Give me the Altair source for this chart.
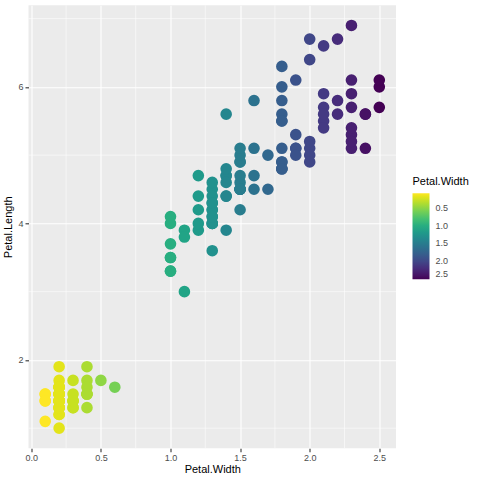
import altair as alt
import pandas as pd

# Edgar Anderson's iris measurements (petal length / width, cm)
petal_length = [
    1.4, 1.4, 1.3, 1.5, 1.4, 1.7, 1.4, 1.5, 1.4, 1.5, 1.5, 1.6, 1.4, 1.1, 1.2, 1.5, 1.3, 1.4, 1.7, 1.5,
    1.7, 1.5, 1.0, 1.7, 1.9, 1.6, 1.6, 1.5, 1.4, 1.6, 1.6, 1.5, 1.5, 1.4, 1.5, 1.2, 1.3, 1.4, 1.3, 1.5,
    1.3, 1.3, 1.3, 1.6, 1.9, 1.4, 1.6, 1.4, 1.5, 1.4,
    4.7, 4.5, 4.9, 4.0, 4.6, 4.5, 4.7, 3.3, 4.6, 3.9, 3.5, 4.2, 4.0, 4.7, 3.6, 4.4, 4.5, 4.1, 4.5, 3.9,
    4.8, 4.0, 4.9, 4.7, 4.3, 4.4, 4.8, 5.0, 4.5, 3.5, 3.8, 3.7, 3.9, 5.1, 4.5, 4.5, 4.7, 4.4, 4.1, 4.0,
    4.4, 4.6, 4.0, 3.3, 4.2, 4.2, 4.2, 4.3, 3.0, 4.1,
    6.0, 5.1, 5.9, 5.6, 5.8, 6.6, 4.5, 6.3, 5.8, 6.1, 5.1, 5.3, 5.5, 5.0, 5.1, 5.3, 5.5, 6.7, 6.9, 5.0,
    5.7, 4.9, 6.7, 4.9, 5.7, 6.0, 4.8, 4.9, 5.6, 5.8, 6.1, 6.4, 5.6, 5.1, 5.6, 6.1, 5.6, 5.5, 4.8, 5.4,
    5.6, 5.1, 5.1, 5.9, 5.7, 5.2, 5.0, 5.2, 5.4, 5.1,
]
petal_width = [
    0.2, 0.2, 0.2, 0.2, 0.2, 0.4, 0.3, 0.2, 0.2, 0.1, 0.2, 0.2, 0.1, 0.1, 0.2, 0.4, 0.4, 0.3, 0.3, 0.3,
    0.2, 0.4, 0.2, 0.5, 0.2, 0.2, 0.4, 0.2, 0.2, 0.2, 0.2, 0.4, 0.1, 0.2, 0.2, 0.2, 0.2, 0.1, 0.2, 0.2,
    0.3, 0.3, 0.2, 0.6, 0.4, 0.3, 0.2, 0.2, 0.2, 0.2,
    1.4, 1.5, 1.5, 1.3, 1.5, 1.3, 1.6, 1.0, 1.3, 1.4, 1.0, 1.5, 1.0, 1.4, 1.3, 1.4, 1.5, 1.0, 1.5, 1.1,
    1.8, 1.3, 1.5, 1.2, 1.3, 1.4, 1.4, 1.7, 1.5, 1.0, 1.1, 1.0, 1.2, 1.6, 1.5, 1.6, 1.5, 1.3, 1.3, 1.3,
    1.2, 1.4, 1.2, 1.0, 1.3, 1.2, 1.3, 1.3, 1.1, 1.3,
    2.5, 1.9, 2.1, 1.8, 2.2, 2.1, 1.7, 1.8, 1.8, 2.5, 2.0, 1.9, 2.1, 2.0, 2.4, 2.3, 1.8, 2.2, 2.3, 1.5,
    2.3, 2.0, 2.0, 1.8, 2.1, 1.8, 1.8, 1.8, 2.1, 1.6, 1.9, 2.0, 2.2, 1.5, 1.4, 2.3, 2.4, 1.8, 1.8, 2.1,
    2.4, 2.3, 1.9, 2.3, 2.5, 2.3, 1.9, 2.0, 2.3, 1.8,
]

x_major = [0.0, 0.5, 1.0, 1.5, 2.0, 2.5]
x_minor = [0.25, 0.75, 1.25, 1.75, 2.25]
y_major = [2, 4, 6]
y_minor = [1, 3, 5, 7]
legend_ticks = [0.5, 1.0, 1.5, 2.0, 2.5]

iris = pd.DataFrame({"pw": petal_width, "pl": petal_length})

FONT = "Liberation Sans"
x_scale = alt.Scale(domain=[-0.02, 2.62], nice=False, zero=False)
y_scale = alt.Scale(domain=[0.705, 7.195], nice=False, zero=False)

x_axis = alt.Axis(values=x_major, format=".1f", grid=True, gridColor="white", gridWidth=1.1,
                  domain=False, tickColor="#333333", tickSize=3.5, tickWidth=1.1,
                  labelColor="#4D4D4D", labelFontSize=9, labelFont=FONT, labelPadding=2,
                  title="Petal.Width", titleFont=FONT, titleFontSize=11, titleFontWeight="normal",
                  titleColor="black", titlePadding=1)
y_axis = alt.Axis(values=y_major, format="d", grid=True, gridColor="white", gridWidth=1.1,
                  domain=False, tickColor="#333333", tickSize=3.5, tickWidth=1.1,
                  labelColor="#4D4D4D", labelFontSize=9, labelFont=FONT, labelPadding=2,
                  title="Petal.Length", titleFont=FONT, titleFontSize=11, titleFontWeight="normal",
                  titleColor="black", titlePadding=4)

# thin minor grid lines, drawn as rules beneath the points
minor_x = alt.Chart(pd.DataFrame({"v": x_minor})).mark_rule(color="white", strokeWidth=0.55).encode(
    x=alt.X("v:Q", scale=x_scale, axis=x_axis)
)
minor_y = alt.Chart(pd.DataFrame({"v": y_minor})).mark_rule(color="white", strokeWidth=0.55).encode(
    y=alt.Y("v:Q", scale=y_scale, axis=y_axis)
)

# colour is keyed on the negated width so that the vertical colour bar
# runs from the smallest width (top) to the largest (bottom)
points = alt.Chart(iris).transform_calculate(neg_pw="-datum.pw").mark_circle(size=135, opacity=1).encode(
    x=alt.X("pw:Q", scale=x_scale, axis=x_axis),
    y=alt.Y("pl:Q", scale=y_scale, axis=y_axis),
    color=alt.Color(
        "neg_pw:Q",
        scale=alt.Scale(scheme="viridis", domain=[-2.5, -0.1]),
        legend=alt.Legend(
            title="Petal.Width", values=[-v for v in legend_ticks],
            labelExpr="format(-datum.value, '.1f')",
            orient="none", legendX=384, legendY=171,
            gradientLength=86, gradientThickness=17, gradientStrokeWidth=0,
            titleFont=FONT, titleFontSize=11, titleFontWeight="normal", titleColor="black",
            titlePadding=6, labelFont=FONT, labelFontSize=9, labelColor="#4D4D4D",
            labelOffset=6, labelOverlap=False, direction="vertical",
        ),
    ),
)

chart = alt.layer(minor_x, minor_y, points).properties(
    width=367.5, height=443,
    autosize=alt.AutoSizeParams(type="none"),
    padding={"left": 28.5, "top": 5.3, "right": 84, "bottom": 31.7},
    background="white",
).configure_view(fill="#EBEBEB", stroke=None)

chart.save("out.html", embed_options={"renderer": "svg", "actions": False})
